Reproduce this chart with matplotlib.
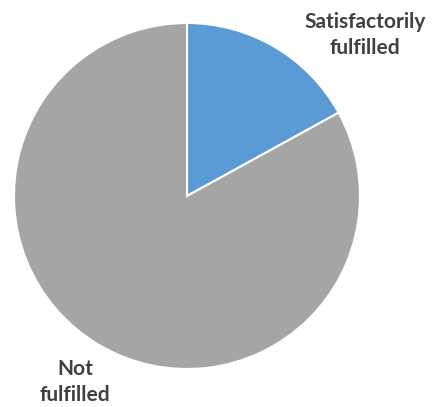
import matplotlib
matplotlib.use("Agg")
import matplotlib.pyplot as plt

categories = ["Satisfactorily\nfulfilled", "Not\nfulfilled"]
values = [17, 83]
colors = ["#5B9BD5", "#A5A5A5"]

W, H = 434, 407
fig = plt.figure(figsize=(W / 100, H / 100), dpi=100)
cx, cy, r = 187, 196, 173
ax = fig.add_axes([(cx - r) / W, (H - cy - r) / H, 2 * r / W, 2 * r / H])
ax.pie(values, colors=colors, startangle=90, counterclock=False,
       wedgeprops=dict(edgecolor="white", linewidth=1.5), radius=1.0)
ax.set_xlim(-1, 1)
ax.set_ylim(-1, 1)
ax.set_aspect("equal")
ax.axis("off")

label_pos = [(365, 35), (75, 382)]
for lab, (x, y) in zip(categories, label_pos):
    fig.text(x / W, 1 - y / H, lab, ha="center", va="center", fontsize=15,
             fontweight="bold", family="Lato", color="#404040",
             linespacing=1.4)

fig.savefig("out.png", dpi=100)
